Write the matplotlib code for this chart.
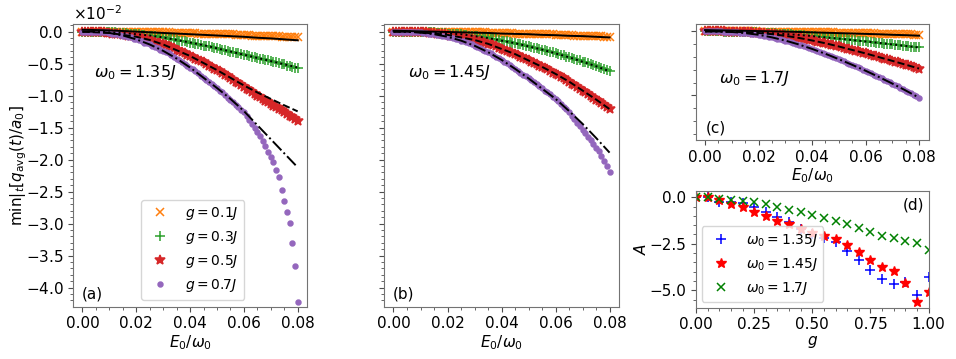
import numpy as np
import matplotlib
matplotlib.use('Agg')
import matplotlib.pyplot as plt
from matplotlib.ticker import MultipleLocator, AutoMinorLocator, ScalarFormatter

plt.rcParams['font.size'] = 11

# field strengths E0/omega0 sampled every 0.001 (markers) and every 0.005 (fit curves)
E0 = np.linspace(0.0, 0.08, 81)
E0_fit = np.linspace(0.0, 0.08, 17)

# min_t[q_avg(t)/a0] in units of 1e-2, panel (a): omega0 = 1.35J
a_g01 = [0.0, 0.0, 0.0, 0.0, 0.0, 0.0, 0.0, 0.0, 0.0, 0.0,
         0.0, 0.0, 0.0, 0.0, 0.0, 0.0, 0.0, 0.0, 0.0, -0.01,
         -0.01, -0.01, -0.01, -0.01, -0.01, -0.01, -0.01, -0.01, -0.01, -0.01,
         -0.01, -0.01, -0.01, -0.02, -0.02, -0.02, -0.02, -0.02, -0.02, -0.02,
         -0.02, -0.02, -0.02, -0.03, -0.03, -0.03, -0.03, -0.03, -0.03, -0.03,
         -0.04, -0.04, -0.04, -0.04, -0.04, -0.04, -0.04, -0.05, -0.05, -0.05,
         -0.05, -0.05, -0.05, -0.06, -0.06, -0.06, -0.06, -0.06, -0.07, -0.07,
         -0.07, -0.07, -0.07, -0.07, -0.08, -0.08, -0.08, -0.08, -0.09, -0.09,
         -0.09]
a_g03 = [0.0, 0.0, 0.0, 0.0, 0.0, 0.0, -0.01, -0.01, -0.01, -0.01,
         -0.01, -0.01, -0.01, -0.02, -0.02, -0.02, -0.02, -0.03, -0.03, -0.03,
         -0.04, -0.04, -0.05, -0.05, -0.06, -0.06, -0.07, -0.07, -0.08, -0.08,
         -0.09, -0.10, -0.11, -0.11, -0.12, -0.13, -0.14, -0.15, -0.15, -0.16,
         -0.17, -0.18, -0.19, -0.20, -0.21, -0.22, -0.22, -0.23, -0.24, -0.25,
         -0.26, -0.27, -0.28, -0.29, -0.30, -0.31, -0.32, -0.33, -0.34, -0.35,
         -0.36, -0.37, -0.38, -0.39, -0.40, -0.41, -0.42, -0.43, -0.44, -0.45,
         -0.46, -0.47, -0.48, -0.49, -0.50, -0.51, -0.53, -0.54, -0.55, -0.56,
         -0.57]
a_g05 = [0.0, 0.0, 0.0, 0.0, 0.0, -0.01, -0.01, -0.01, -0.01, -0.02,
         -0.02, -0.03, -0.03, -0.04, -0.04, -0.05, -0.05, -0.06, -0.07, -0.07,
         -0.08, -0.09, -0.10, -0.11, -0.12, -0.13, -0.14, -0.16, -0.17, -0.18,
         -0.20, -0.21, -0.23, -0.24, -0.26, -0.28, -0.30, -0.32, -0.34, -0.36,
         -0.38, -0.40, -0.42, -0.44, -0.46, -0.48, -0.51, -0.53, -0.55, -0.58,
         -0.60, -0.62, -0.65, -0.67, -0.70, -0.72, -0.75, -0.78, -0.80, -0.83,
         -0.86, -0.89, -0.91, -0.94, -0.97, -1.00, -1.02, -1.05, -1.08, -1.10,
         -1.13, -1.16, -1.18, -1.21, -1.23, -1.26, -1.28, -1.31, -1.34, -1.36,
         -1.39]
a_g07 = [0.0, 0.0, 0.0, 0.0, 0.0, 0.0, -0.01, -0.01, -0.01, -0.01,
         -0.02, -0.03, -0.03, -0.04, -0.05, -0.06, -0.07, -0.08, -0.09, -0.11,
         -0.12, -0.13, -0.15, -0.17, -0.18, -0.20, -0.22, -0.24, -0.26, -0.28,
         -0.30, -0.32, -0.34, -0.37, -0.39, -0.42, -0.44, -0.47, -0.50, -0.53,
         -0.56, -0.59, -0.62, -0.65, -0.69, -0.72, -0.75, -0.78, -0.81, -0.85,
         -0.88, -0.92, -0.95, -0.99, -1.03, -1.07, -1.10, -1.14, -1.18, -1.22,
         -1.26, -1.32, -1.38, -1.44, -1.50, -1.57, -1.63, -1.71, -1.79, -1.88,
         -1.96, -2.04, -2.16, -2.27, -2.47, -2.64, -2.81, -2.99, -3.30, -3.66,
         -4.23]
a_fit01 = [0.03, 0.025, 0.02, 0.01, 0.0, -0.01, -0.02, -0.03, -0.04,
           -0.05, -0.06, -0.07, -0.08, -0.095, -0.105, -0.12, -0.135]
a_fit03 = [0.0, 0.0, -0.01, -0.02, -0.04, -0.06, -0.09, -0.13, -0.17,
           -0.21, -0.26, -0.31, -0.36, -0.41, -0.46, -0.51, -0.56]
a_fit05 = [0.0, -0.01, -0.02, -0.05, -0.08, -0.13, -0.20, -0.29, -0.38,
           -0.49, -0.60, -0.72, -0.84, -0.95, -1.05, -1.15, -1.245]
a_fit07 = [0.0, 0.0, -0.02, -0.06, -0.12, -0.20, -0.30, -0.42, -0.56,
           -0.72, -0.88, -1.05, -1.24, -1.46, -1.68, -1.90, -2.12]

# panel (b): omega0 = 1.45J
b_g01 = [0.0, 0.0, 0.0, 0.0, 0.0, 0.0, 0.0, 0.0, 0.0, 0.0,
         0.0, 0.0, 0.0, 0.0, 0.0, 0.0, 0.0, 0.0, 0.0, 0.0,
         -0.01, -0.01, -0.01, -0.01, -0.01, -0.01, -0.01, -0.01, -0.01, -0.01,
         -0.01, -0.01, -0.01, -0.01, -0.01, -0.02, -0.02, -0.02, -0.02, -0.02,
         -0.02, -0.02, -0.02, -0.02, -0.02, -0.03, -0.03, -0.03, -0.03, -0.03,
         -0.03, -0.03, -0.03, -0.04, -0.04, -0.04, -0.04, -0.04, -0.04, -0.04,
         -0.05, -0.05, -0.05, -0.05, -0.05, -0.05, -0.05, -0.06, -0.06, -0.06,
         -0.06, -0.06, -0.06, -0.07, -0.07, -0.07, -0.07, -0.07, -0.08, -0.08,
         -0.08]
b_g03 = [0.0, 0.0, 0.0, 0.0, 0.0, 0.0, 0.0, 0.0, 0.0, 0.0,
         -0.01, -0.01, -0.01, -0.01, -0.01, -0.01, -0.02, -0.02, -0.02, -0.02,
         -0.03, -0.03, -0.03, -0.04, -0.04, -0.04, -0.05, -0.05, -0.06, -0.06,
         -0.07, -0.07, -0.08, -0.09, -0.09, -0.10, -0.11, -0.11, -0.12, -0.13,
         -0.14, -0.14, -0.15, -0.16, -0.17, -0.18, -0.19, -0.20, -0.21, -0.22,
         -0.23, -0.24, -0.25, -0.26, -0.27, -0.28, -0.29, -0.30, -0.31, -0.32,
         -0.34, -0.35, -0.36, -0.37, -0.39, -0.40, -0.41, -0.43, -0.44, -0.45,
         -0.47, -0.48, -0.49, -0.51, -0.52, -0.54, -0.55, -0.57, -0.58, -0.60,
         -0.62]
b_g05 = [0.0, 0.0, 0.0, 0.0, 0.0, 0.0, 0.0, 0.0, -0.01, -0.01,
         -0.01, -0.01, -0.01, -0.02, -0.02, -0.02, -0.03, -0.03, -0.04, -0.04,
         -0.05, -0.06, -0.06, -0.07, -0.08, -0.08, -0.09, -0.10, -0.11, -0.12,
         -0.13, -0.14, -0.15, -0.16, -0.17, -0.19, -0.20, -0.21, -0.23, -0.25,
         -0.27, -0.28, -0.30, -0.31, -0.33, -0.35, -0.37, -0.39, -0.41, -0.43,
         -0.45, -0.47, -0.49, -0.51, -0.53, -0.55, -0.57, -0.59, -0.61, -0.64,
         -0.66, -0.68, -0.71, -0.73, -0.76, -0.78, -0.81, -0.84, -0.86, -0.89,
         -0.92, -0.95, -0.97, -1.00, -1.03, -1.06, -1.09, -1.12, -1.15, -1.18,
         -1.21]
b_g07 = [0.0, 0.0, 0.0, 0.0, 0.0, 0.0, 0.0, -0.01, -0.01, -0.01,
         -0.01, -0.02, -0.02, -0.03, -0.03, -0.04, -0.05, -0.05, -0.06, -0.07,
         -0.08, -0.09, -0.10, -0.11, -0.12, -0.14, -0.15, -0.16, -0.18, -0.20,
         -0.22, -0.24, -0.26, -0.28, -0.30, -0.32, -0.34, -0.37, -0.39, -0.41,
         -0.44, -0.47, -0.49, -0.52, -0.55, -0.58, -0.61, -0.64, -0.67, -0.70,
         -0.73, -0.76, -0.79, -0.82, -0.85, -0.88, -0.92, -0.95, -0.98, -1.02,
         -1.05, -1.09, -1.13, -1.17, -1.21, -1.26, -1.31, -1.37, -1.42, -1.48,
         -1.54, -1.59, -1.64, -1.70, -1.75, -1.81, -1.87, -1.94, -2.02, -2.10,
         -2.20]
b_fit01 = [0.015, 0.01, 0.005, 0.0, -0.005, -0.01, -0.015, -0.02, -0.03,
           -0.035, -0.04, -0.05, -0.055, -0.065, -0.07, -0.08, -0.09]
b_fit03 = [0.0, 0.0, -0.01, -0.01, -0.03, -0.04, -0.07, -0.10, -0.14,
           -0.18, -0.23, -0.28, -0.34, -0.40, -0.47, -0.54, -0.62]
b_fit05 = [0.0, 0.0, -0.01, -0.03, -0.05, -0.09, -0.13, -0.19, -0.27,
           -0.35, -0.45, -0.55, -0.66, -0.78, -0.92, -1.06, -1.21]
b_fit07 = [0.0, 0.0, -0.015, -0.04, -0.08, -0.14, -0.22, -0.32, -0.44,
           -0.58, -0.73, -0.89, -1.05, -1.24, -1.44, -1.66, -1.89]

# panel (c): omega0 = 1.7J
c_g01 = [0.0, 0.0, 0.0, 0.0, 0.0, 0.0, 0.0, 0.0, 0.0, 0.0,
         0.0, 0.0, -0.001, -0.001, -0.001, -0.001, -0.001, -0.001, -0.001, -0.001,
         -0.002, -0.002, -0.002, -0.002, -0.002, -0.003, -0.003, -0.003, -0.003, -0.003,
         -0.004, -0.004, -0.004, -0.004, -0.005, -0.005, -0.005, -0.006, -0.006, -0.006,
         -0.007, -0.007, -0.007, -0.008, -0.008, -0.008, -0.009, -0.009, -0.009, -0.010,
         -0.010, -0.011, -0.011, -0.011, -0.012, -0.012, -0.013, -0.013, -0.014, -0.014,
         -0.015, -0.015, -0.016, -0.016, -0.017, -0.017, -0.018, -0.018, -0.019, -0.019,
         -0.020, -0.020, -0.021, -0.022, -0.022, -0.023, -0.023, -0.024, -0.025, -0.025,
         -0.026]
c_g03 = [0.0, 0.0, 0.0, 0.0, -0.001, -0.001, -0.001, -0.002, -0.002, -0.003,
         -0.003, -0.004, -0.004, -0.005, -0.006, -0.006, -0.007, -0.008, -0.008, -0.009,
         -0.010, -0.011, -0.012, -0.013, -0.014, -0.015, -0.016, -0.017, -0.018, -0.020,
         -0.021, -0.022, -0.024, -0.025, -0.027, -0.028, -0.030, -0.031, -0.033, -0.035,
         -0.037, -0.039, -0.041, -0.043, -0.045, -0.047, -0.049, -0.051, -0.053, -0.055,
         -0.057, -0.059, -0.061, -0.063, -0.066, -0.068, -0.070, -0.072, -0.075, -0.077,
         -0.079, -0.081, -0.084, -0.086, -0.088, -0.091, -0.093, -0.095, -0.098, -0.100,
         -0.102, -0.104, -0.107, -0.109, -0.112, -0.114, -0.116, -0.119, -0.121, -0.124,
         -0.126]
c_g05 = [0.0, 0.0, 0.0, 0.0, 0.0, -0.001, -0.001, -0.001, -0.002, -0.002,
         -0.003, -0.004, -0.004, -0.005, -0.006, -0.007, -0.008, -0.009, -0.010, -0.012,
         -0.013, -0.015, -0.016, -0.018, -0.020, -0.022, -0.024, -0.026, -0.029, -0.032,
         -0.035, -0.038, -0.041, -0.044, -0.047, -0.051, -0.054, -0.058, -0.062, -0.067,
         -0.071, -0.075, -0.080, -0.084, -0.089, -0.093, -0.098, -0.103, -0.108, -0.113,
         -0.118, -0.123, -0.129, -0.134, -0.140, -0.145, -0.150, -0.156, -0.161, -0.167,
         -0.172, -0.178, -0.184, -0.189, -0.195, -0.201, -0.207, -0.212, -0.218, -0.224,
         -0.230, -0.236, -0.242, -0.248, -0.254, -0.260, -0.266, -0.272, -0.278, -0.284,
         -0.290]
c_g07 = [0.0, 0.0, 0.0, 0.0, -0.001, -0.001, -0.001, -0.002, -0.003, -0.004,
         -0.005, -0.006, -0.008, -0.010, -0.012, -0.014, -0.016, -0.019, -0.021, -0.024,
         -0.027, -0.030, -0.034, -0.038, -0.042, -0.046, -0.051, -0.056, -0.061, -0.066,
         -0.072, -0.078, -0.084, -0.090, -0.096, -0.103, -0.109, -0.116, -0.123, -0.130,
         -0.137, -0.144, -0.152, -0.160, -0.168, -0.176, -0.184, -0.192, -0.200, -0.209,
         -0.217, -0.226, -0.235, -0.244, -0.253, -0.262, -0.271, -0.280, -0.289, -0.298,
         -0.307, -0.317, -0.327, -0.337, -0.347, -0.357, -0.367, -0.377, -0.387, -0.397,
         -0.407, -0.418, -0.429, -0.440, -0.451, -0.462, -0.473, -0.484, -0.495, -0.506,
         -0.517]
c_fit01 = [0.010, 0.008, 0.006, 0.004, 0.002, 0.000, -0.002, -0.005, -0.008,
           -0.011, -0.014, -0.017, -0.020, -0.023, -0.027, -0.030, -0.034]
c_fit03 = [0.0, -0.001, -0.003, -0.006, -0.010, -0.015, -0.021, -0.028, -0.037,
           -0.047, -0.057, -0.068, -0.079, -0.090, -0.102, -0.114, -0.126]
c_fit05 = [0.0, -0.001, -0.003, -0.007, -0.013, -0.022, -0.035, -0.051, -0.071,
           -0.093, -0.118, -0.145, -0.172, -0.201, -0.230, -0.260, -0.290]
c_fit07 = [0.0, -0.001, -0.005, -0.014, -0.027, -0.047, -0.072, -0.102, -0.137,
           -0.175, -0.217, -0.261, -0.307, -0.356, -0.407, -0.461, -0.517]

# panel (d): A vs g
g = [0.0, 0.05, 0.1, 0.15, 0.2, 0.25, 0.3, 0.35, 0.4, 0.45, 0.5,
     0.55, 0.6, 0.65, 0.7, 0.75, 0.8, 0.85, 0.9, 0.95, 1.0]
A_135 = [0.0, 0.0, -0.23, -0.27, -0.31, -0.53, -0.81, -1.06, -1.35, -1.72, -1.99,
         -2.17, -2.42, -2.89, -3.37, -3.91, -4.41, -4.68, -4.54, -5.25, -4.30]
A_145 = [0.0, 0.0, -0.15, -0.36, -0.54, -0.79, -1.02, -1.26, -1.45, -1.72, -1.94,
         -2.06, -2.24, -2.58, -2.96, -3.37, -3.73, -3.95, -4.62, -5.65, -5.08]
A_170 = [0.0, 0.0, -0.09, -0.13, -0.18, -0.23, -0.38, -0.52, -0.66, -0.81, -0.95,
         -1.09, -1.25, -1.45, -1.65, -1.86, -2.06, -2.20, -2.35, -2.44, -2.83]

gLabels = ['$g = 0.1J$', '$g = 0.3J$', '$g = 0.5J$', '$g = 0.7J$']
omegaLabels = ['$\\omega_0 = 1.35J$', '$\\omega_0 = 1.45J$', '$\\omega_0 = 1.7J$']

markers = ['x', '+', '*', '.']
markerSizes = [6, 7, 7.5, 7]
colors = ['C1', 'C2', 'C3', 'C4']
fitStyles = ['-', ':', '--', '-.']
SCALE = 1e-2


def drawPanel(ax, series, fits, letter, omegaText, omegaPos, letterPos):
    for ys, marker, ms, color, label in zip(series, markers, markerSizes, colors, gLabels):
        ax.plot(E0, np.array(ys) * SCALE, ls='None', marker=marker, ms=ms, mew=1.1,
                color=color, label=label)
    for ys, ls in zip(fits, fitStyles):
        ax.plot(E0_fit, np.array(ys) * SCALE, ls=ls, color='k', lw=1.4)
    ax.set_xlim(-0.0034, 0.0836)
    ax.xaxis.set_major_locator(MultipleLocator(0.02))
    ax.xaxis.set_minor_locator(AutoMinorLocator(4))
    ax.set_xlabel('$E_0/\\omega_0$', labelpad=1)
    ax.text(omegaPos[0], omegaPos[1], omegaText, transform=ax.transAxes, va='center',
            fontsize=11.5)
    ax.text(letterPos[0], letterPos[1], letter, transform=ax.transAxes, va='center')


def styleAxes(ax):
    for sp in ax.spines.values():
        sp.set_color('0.45')
    ax.tick_params(which='both', color='0.3')


fig = plt.figure(figsize=(9.56, 3.59), dpi=100)
axA = fig.add_axes([0.0767, 0.1457, 0.2448, 0.7875])
axB = fig.add_axes([0.4020, 0.1457, 0.2458, 0.7875], sharey=axA)
axC = fig.add_axes([0.7280, 0.6100, 0.2434, 0.3231])
axD = fig.add_axes([0.7280, 0.1429, 0.2434, 0.3250])

drawPanel(axA, [a_g01, a_g03, a_g05, a_g07], [a_fit01, a_fit03, a_fit05, a_fit07],
          '(a)', omegaLabels[0], (0.09, 0.83), (0.035, 0.045))
drawPanel(axB, [b_g01, b_g03, b_g05, b_g07], [b_fit01, b_fit03, b_fit05, b_fit07],
          '(b)', omegaLabels[1], (0.10, 0.83), (0.035, 0.045))
drawPanel(axC, [c_g01, c_g03, c_g05, c_g07], [c_fit01, c_fit03, c_fit05, c_fit07],
          '(c)', omegaLabels[2], (0.10, 0.53), (0.04, 0.10))

axA.set_ylim(-4.297 * SCALE, 0.12 * SCALE)
axA.yaxis.set_major_locator(MultipleLocator(0.5 * SCALE))
axA.yaxis.set_minor_locator(AutoMinorLocator(5))
fmt = ScalarFormatter(useMathText=True)
fmt.set_powerlimits((0, 0))
axA.yaxis.set_major_formatter(fmt)
axA.set_ylabel('$\\min|_t[q_{\\mathrm{avg}}(t)/a_0]$')
axA.yaxis.set_label_coords(-0.19, 0.5)
axA.legend(loc='lower center', bbox_to_anchor=(0.51, 0.0), fontsize=10)

axB.tick_params(labelleft=False)
axB.yaxis.offsetText.set_visible(False)

axC.set_ylim(-0.847 * SCALE, 0.057 * SCALE)
axC.yaxis.set_major_locator(MultipleLocator(0.5 * SCALE))
axC.yaxis.set_minor_locator(AutoMinorLocator(5))
axC.tick_params(labelleft=False)
axC.yaxis.offsetText.set_visible(False)

# panel (d)
axD.plot(g, A_135, ls='None', marker='+', ms=7, mew=1.1, color='b', label=omegaLabels[0])
axD.plot(g, A_145, ls='None', marker='*', ms=7, color='r', label=omegaLabels[1])
axD.plot(g, A_170, ls='None', marker='x', ms=5.5, mew=1.1, color='g', label=omegaLabels[2])
axD.set_xlim(0.0, 1.0)
axD.set_ylim(-5.94, 0.34)
axD.xaxis.set_major_locator(MultipleLocator(0.25))
axD.xaxis.set_minor_locator(AutoMinorLocator(5))
axD.yaxis.set_major_locator(MultipleLocator(2.5))
axD.yaxis.set_minor_locator(AutoMinorLocator(5))
axD.set_xlabel('$g$', labelpad=1)
axD.set_ylabel('$A$', labelpad=0)
axD.text(0.98, 0.88, '(d)', transform=axD.transAxes, ha='right', va='center')
axD.legend(loc='lower left', fontsize=10, borderaxespad=0.4)

for ax in [axA, axB, axC, axD]:
    styleAxes(ax)

plt.savefig('out.png', dpi=100)
